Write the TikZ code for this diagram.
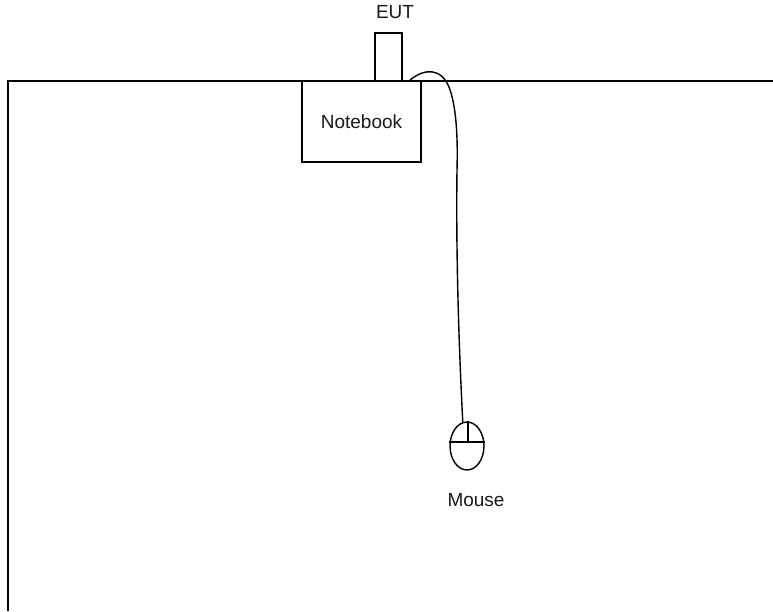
\documentclass[tikz,border=0pt]{standalone}
\usepackage{fontspec}
\setmainfont{Liberation Sans}
\usetikzlibrary{shapes.geometric}

\begin{document}
\begin{tikzpicture}[x=0.02cm, y=-0.02cm, line width=0.8pt,
    label text/.style={inner sep=0pt, font=\fontsize{10.8}{13}\selectfont, text=black!90},
    unit box/.style={draw, inner sep=0pt, minimum width=#1}]
      % Picture size
      \useasboundingbox (0,0) rectangle (773,611);

      % Table edge
      \coordinate (table bottom) at (8,611);
      \coordinate (table corner) at (8,81);
      \coordinate (table end) at (773,81);
      \draw (table bottom) -- (table corner) -- (table end);

      % Notebook and EUT
      \node[label text, unit box=2.38cm, minimum height=1.62cm] (notebook) at (361.5,121.5) {Notebook};
      \node[unit box=0.54cm, minimum height=0.96cm] (stick) at (388.5,57) {};
      \node[label text] (eut) at (395,12) {EUT};
      \coordinate (port) at (410,80);

      % Mouse
      \node[draw, ellipse, inner sep=0pt, minimum width=0.68cm, minimum height=0.96cm] (mouse) at (467,446) {};
      \coordinate (mid) at (468,442);
      \draw (mouse.north) ++(1,0) -- (mid);
      \draw (mouse.west |- mid) -- (mouse.east |- mid);
      \node[label text] (mouse label) at (476,500) {Mouse};

      % Cable
      \draw (port) .. controls (425,68) and (441,68) .. (449,87)
        .. controls (456,105) and (458,135) .. (457,170)
        .. controls (456,240) and (458,330) .. (mouse.100);
    \end{tikzpicture}
\end{document}
